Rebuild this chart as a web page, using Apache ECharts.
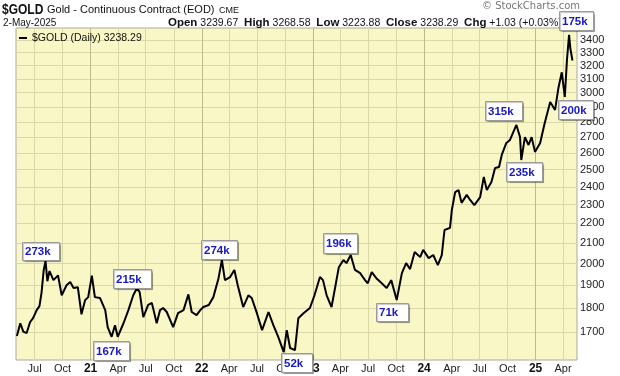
<!DOCTYPE html>
<html>
<head>
<meta charset="utf-8">
<script src="https://cdn.jsdelivr.net/npm/echarts@6/dist/echarts.min.js"></script>
<style>
  html, body { margin: 0; padding: 0; background: #fff; }
  #chart { width: 620px; height: 376px; }
</style>
</head>
<body>
<div id="chart"></div>
<script>
const dates = [
  '2020-05-04','2020-05-15','2020-05-25','2020-06-05','2020-06-16','2020-06-26','2020-07-08','2020-07-17',
  '2020-07-24','2020-07-31','2020-08-06','2020-08-12','2020-08-19','2020-09-01','2020-09-16','2020-09-28',
  '2020-10-14','2020-10-26','2020-11-06','2020-11-20','2020-12-02','2020-12-14','2020-12-24','2021-01-05',
  '2021-01-15','2021-02-01','2021-02-18','2021-02-26','2021-03-11','2021-03-22','2021-03-31','2021-04-19',
  '2021-05-05','2021-05-21','2021-06-02','2021-06-11','2021-06-23','2021-07-09','2021-07-21','2021-08-06',
  '2021-08-17','2021-08-27','2021-09-08','2021-09-29','2021-10-15','2021-11-02','2021-11-18','2021-11-29',
  '2021-12-15','2021-12-27','2022-01-06','2022-01-24','2022-02-08','2022-02-25','2022-03-08','2022-03-18',
  '2022-04-04','2022-04-18','2022-04-29','2022-05-17','2022-06-03','2022-06-14','2022-07-01','2022-07-18',
  '2022-08-08','2022-08-24','2022-09-09','2022-09-27','2022-10-07','2022-10-18','2022-11-03','2022-11-14',
  '2022-12-01','2022-12-22','2023-01-06','2023-01-24','2023-02-03','2023-02-15','2023-03-03','2023-03-15',
  '2023-03-27','2023-04-11','2023-04-21','2023-05-05','2023-05-19','2023-06-05','2023-06-21','2023-06-30',
  '2023-07-13','2023-07-28','2023-08-15','2023-08-31','2023-09-15','2023-10-03','2023-10-20','2023-11-03',
  '2023-11-16','2023-12-01','2023-12-19','2023-12-29','2024-01-16','2024-01-31','2024-02-15','2024-02-28',
  '2024-03-08','2024-03-26','2024-04-01','2024-04-12','2024-04-23','2024-05-03','2024-05-20','2024-05-31',
  '2024-06-14','2024-07-03','2024-07-15','2024-07-25','2024-08-09','2024-08-21','2024-09-03','2024-09-12',
  '2024-09-27','2024-10-09','2024-10-30','2024-11-11','2024-11-15','2024-11-27','2024-12-09','2024-12-19',
  '2024-12-30','2025-01-16','2025-01-31','2025-02-18','2025-03-06','2025-03-17','2025-03-28','2025-04-07',
  '2025-04-14','2025-04-21','2025-04-25','2025-05-02'
];
const closes = [
  1684,1736,1702,1696,1740,1757,1791,1808,
  1868,1970,2012,1918,1965,1923,1945,1855,
  1900,1914,1887,1891,1773,1834,1847,1944,
  1847,1843,1791,1720,1681,1728,1681,1736,
  1791,1855,1887,1869,1761,1813,1822,1736,
  1791,1800,1783,1720,1778,1791,1859,1783,
  1770,1791,1804,1813,1847,1932,2017,1923,
  1937,1970,1900,1804,1855,1843,1778,1708,
  1783,1728,1681,1621,1708,1637,1629,1757,
  1778,1800,1855,1937,1923,1855,1804,1891,
  1983,2017,2002,2041,1970,1955,1923,1909,
  1960,1932,1909,1887,1923,1834,1955,2002,
  1974,2056,2031,2066,2026,2041,1993,2041,
  2166,2177,2271,2370,2381,2310,2354,2326,
  2298,2342,2456,2381,2427,2509,2515,2588,
  2663,2682,2779,2700,2557,2700,2650,2700,
  2607,2663,2792,2935,2880,3034,3149,2970,
  3242,3441,3335,3238.29
];
const priceTicks = [1700,1800,1900,2000,2100,2200,2300,2400,2500,2600,2700,2800,2900,3000,3100,3200,3300,3400];
const quarterTicks = [
  '2020-07-01','2020-10-01','2021-01-01','2021-04-01','2021-07-01','2021-10-01',
  '2022-01-01','2022-04-01','2022-07-01','2022-10-01','2023-01-01','2023-04-01',
  '2023-07-01','2023-10-01','2024-01-01','2024-04-01','2024-07-01','2024-10-01',
  '2025-01-01','2025-04-01'
];
const yearStarts = ['2021-01-01','2022-01-01','2023-01-01','2024-01-01','2025-01-01'];
const volumeNotes = ['273k','215k','167k','274k','52k','196k','71k','315k','235k','200k','175k'];
// note box layout [x, y, w, h]
const noteBoxes = [
  [22,242,37,18],[113,269,38,19],[93,341,36,19],[201,240,36,19],[281,353,31,19],[323,233,34,20],
  [376,303,32,18],[485,101,37,19],[506,162,36,19],[558,100,35,19],[559,11,34,19]
];

const monthNames = ['Jan','Feb','Mar','Apr','May','Jun','Jul','Aug','Sep','Oct','Nov','Dec'];
const FONT = '"Liberation Sans", Arial, sans-serif';
const ts = d => Date.parse(d);

const chart = echarts.init(document.getElementById('chart'));

const noteGraphics = [];
volumeNotes.forEach((t, i) => {
  const [x, y, w, h] = noteBoxes[i];
  noteGraphics.push({
    type: 'rect', z: 100,
    shape: { x: x + 0.5, y: y + 0.5, width: w, height: h },
    style: { fill: '#fff', stroke: '#9a9a9a', lineWidth: 1,
      shadowColor: 'rgba(0,0,0,0.25)', shadowOffsetX: 1, shadowOffsetY: 1, shadowBlur: 1 }
  });
  noteGraphics.push({
    type: 'text', z: 101, x: x + 3, y: y + h / 2 + 1,
    style: { text: t, fill: '#1818c0', font: 'bold 11.5px ' + FONT, verticalAlign: 'middle' }
  });
});

const option = {
  animation: false,
  backgroundColor: '#fff',
  grid: {
    left: 16, right: 43, top: 28, bottom: 16,
    show: true, backgroundColor: '#f9f7c6', borderColor: '#aaa99a', borderWidth: 1
  },
  xAxis: {
    type: 'value',
    min: ts('2020-05-01'), max: ts('2025-05-17'),
    axisLine: { show: false },
    axisTick: { show: false, customValues: quarterTicks.map(ts) },
    splitLine: { show: true, lineStyle: { color: '#dad7a8', width: 1 } },
    axisLabel: {
      customValues: quarterTicks.map(ts),
      margin: 3,
      color: '#222',
      fontFamily: FONT,
      fontSize: 11,
      formatter: v => {
        const d = new Date(v);
        const m = d.getUTCMonth();
        if (m === 0) return '{y|' + String(d.getUTCFullYear()).slice(2) + '}';
        return monthNames[m];
      },
      rich: { y: { fontWeight: 'bold', fontSize: 12, fontFamily: FONT, color: '#111' } }
    }
  },
  yAxis: {
    type: 'log', logBase: 10,
    position: 'right',
    min: 1591, max: 3498,
    axisLine: { show: false },
    axisTick: { show: false, customValues: priceTicks },
    splitLine: { show: true, lineStyle: { color: '#dad7a8', width: 1 } },
    axisLabel: {
      customValues: priceTicks,
      margin: 3,
      color: '#222',
      fontFamily: FONT,
      fontSize: 11,
      formatter: v => String(Math.round(v))
    }
  },
  series: [{
    type: 'line',
    data: dates.map((d, i) => [ts(d), closes[i]]),
    showSymbol: false,
    symbol: 'none',
    lineStyle: { color: '#000', width: 2 },
    markLine: {
      silent: true, symbol: 'none', label: { show: false },
      lineStyle: { color: '#bdba90', width: 1, type: 'solid' },
      data: yearStarts.map(d => ({ xAxis: ts(d) }))
    },
    z: 5
  }],
  graphic: [
    { type: 'text', x: 2, y: 10, scaleX: 0.8, style: { text: '$GOLD', fill: '#111', font: 'bold 15px ' + FONT, verticalAlign: 'middle' } },
    { type: 'text', x: 47, y: 10, style: { text: 'Gold - Continuous Contract (EOD)', fill: '#111', font: '11px ' + FONT, verticalAlign: 'middle' } },
    { type: 'text', x: 219, y: 11, style: { text: 'CME', fill: '#111', font: '9px ' + FONT, verticalAlign: 'middle' } },
    { type: 'text', x: 3, y: 23, style: { text: '2-May-2025', fill: '#111', font: '10px ' + FONT, verticalAlign: 'middle' } },
    { type: 'text', x: 168, y: 23, style: {
        text: '{b|Open} 3239.67  {b|High} 3268.58  {b|Low} 3223.88  {b|Close} 3238.29  {b|Chg} +1.03 (+0.03%)',
        fill: '#111', font: '10.5px ' + FONT, verticalAlign: 'middle',
        rich: { b: { fontWeight: 'bold', fontSize: 11.5, fontFamily: FONT, fill: '#111' } }
      } },
    { type: 'text', x: 482, y: 6, style: { text: '\u00a9 StockCharts.com', fill: '#777', font: '10px "DejaVu Sans", sans-serif', verticalAlign: 'middle' } },
    { type: 'rect', z: 50, shape: { x: 19, y: 37, width: 8, height: 2 }, style: { fill: '#000' } },
    { type: 'text', z: 50, x: 32, y: 38, style: { text: '$GOLD (Daily) 3238.29', fill: '#111', font: '10.5px ' + FONT, verticalAlign: 'middle' } }
  ].concat(noteGraphics)
};

chart.setOption(option);
</script>
</body>
</html>
